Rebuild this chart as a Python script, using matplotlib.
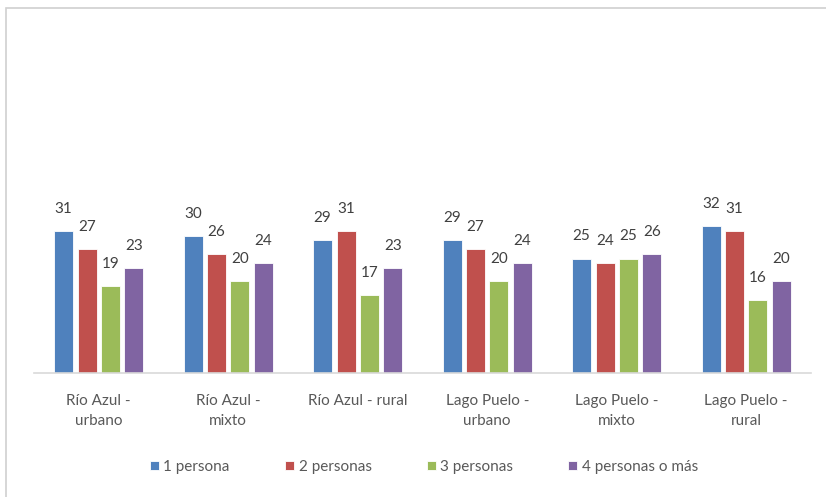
import matplotlib
matplotlib.use("Agg")
import matplotlib.pyplot as plt
import numpy as np
from matplotlib.patches import Rectangle

plt.rcParams['font.family'] = ['Lato', 'DejaVu Sans']

categories = ["Río Azul -\nurbano", "Río Azul -\nmixto", "Río Azul - rural",
              "Lago Puelo -\nurbano", "Lago Puelo -\nmixto", "Lago Puelo -\nrural"]
series_names = ["1 persona", "2 personas", "3 personas", "4 personas o más"]
s1 = [31, 30, 29, 29, 25, 32]
s2 = [27, 26, 31, 27, 24, 31]
s3 = [19, 20, 17, 20, 25, 16]
s4 = [23, 24, 23, 24, 26, 20]
colors = ["#4F81BD", "#C0504D", "#9BBB59", "#8064A2"]

W, H = 826, 497
fig = plt.figure(figsize=(W / 100, H / 100), dpi=100)

# chart frame (light border, partly cropped)
fig.add_artist(Rectangle((6 / W, -0.1), 1.2, (H - 8) / H + 0.1, transform=fig.transFigure,
                         fill=False, edgecolor="#d0d0d0", linewidth=1.2))

ymax = 70
ppu = 4.58
ax = fig.add_axes([34 / W, (H - 373) / H, (811 - 34) / W, ymax * ppu / H])
x = np.arange(len(categories))
bw = 0.147
step = 0.181
for i, (vals, c, name) in enumerate(zip([s1, s2, s3, s4], colors, series_names)):
    pos = x + (i - 1.5) * step
    ax.bar(pos, vals, width=bw, color=c, edgecolor="white", linewidth=0.6, label=name)
    for xp, v in zip(pos, vals):
        ax.annotate(str(v), (xp, v), xytext=(0, 13), textcoords="offset points",
                    ha="center", va="baseline", fontsize=11, color="#404040")

ax.set_xlim(-0.5, len(categories) - 0.5)
ax.set_ylim(0, ymax)
ax.set_yticks([])
for s in ["top", "right", "left"]:
    ax.spines[s].set_visible(False)
ax.spines["bottom"].set_color("#d9d9d9")
ax.spines["bottom"].set_linewidth(1.2)
ax.set_xticks(x)
ax.set_xticklabels(categories, fontsize=11, color="#595959", linespacing=1.6)
ax.tick_params(axis="x", length=0, pad=15)

fig.legend(loc="center", bbox_to_anchor=(424 / W, 1 - 467 / H), ncol=4, frameon=False,
           fontsize=11, labelcolor="#595959", handlelength=0.6, handleheight=0.6,
           handletextpad=0.3, columnspacing=3.6)

fig.savefig("out.png", dpi=100)
